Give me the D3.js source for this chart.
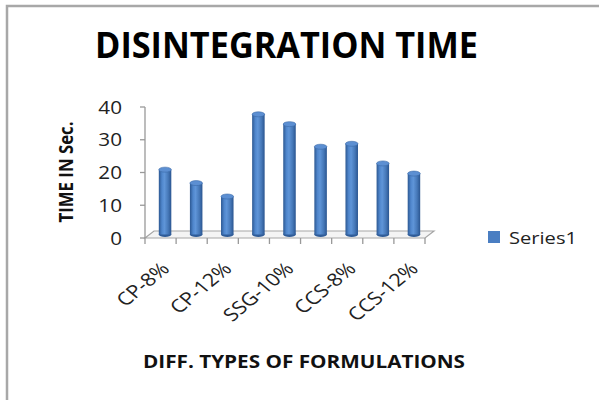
<!DOCTYPE html>
<html>
<head>
<meta charset="utf-8">
<script src="https://cdn.jsdelivr.net/npm/d3@7"></script>
<style>
  html, body { margin: 0; padding: 0; background: #fff; }
  svg { display: block; }
</style>
</head>
<body>
<svg id="chart" width="599" height="400"></svg>
<script>
// Disintegration time (seconds) per formulation
const categories = ["CP-8%", "CP-10%", "CP-12%", "SSG-8%", "SSG-10%", "SSG-12%", "CCS-8%", "CCS-10%", "CCS-12%"];
const times = [19.8, 15.7, 11.6, 36.7, 33.7, 26.8, 27.7, 21.7, 18.6];
const yTicks = [0, 10, 20, 30, 40];
const shownLabels = ["CP-8%", "CP-12%", "SSG-10%", "CCS-8%", "CCS-12%"];
const seriesName = "Series1";
const chartTitle = "DISINTEGRATION TIME";
const xTitle = "DIFF. TYPES OF FORMULATIONS";
const yTitle = "TIME IN Sec.";

(function draw() {
  const svg = d3.select("#chart");
  const font = "'Open Sans', 'DejaVu Sans', sans-serif";

  // chart frame
  svg.append("rect").attr("x", 7).attr("y", 6).attr("width", 620).attr("height", 420)
    .attr("fill", "#fff").attr("stroke", "#a8a8a8").attr("stroke-width", 2.5);

  // plot geometry (oblique 3D floor)
  const plotLeft = 145, plotRight = 425, plotBase = 238, plotTop = 107;
  const depthX = 9, depthY = -7;

  const x = d3.scaleBand().domain(categories).range([plotLeft, plotRight]).paddingInner(0).paddingOuter(0);
  const y = d3.scaleLinear().domain([0, 40]).range([plotBase, plotTop]);

  function fitText(sel, width) {
    sel.attr("textLength", width).attr("lengthAdjust", "spacingAndGlyphs");
    return sel;
  }

  // title
  fitText(svg.append("text").attr("x", 286.5).attr("y", 58).attr("text-anchor", "middle")
    .attr("font-family", font).attr("font-weight", 700).attr("font-size", 35)
    .attr("fill", "#000").text(chartTitle), 383);

  // floor
  svg.append("path")
    .attr("d", `M${plotLeft},${plotBase} L${plotRight},${plotBase} L${plotRight + depthX},${plotBase + depthY} L${plotLeft + depthX},${plotBase + depthY} Z`)
    .attr("fill", "#f4f4f4").attr("stroke", "#a6a6a6").attr("stroke-width", 1.2);

  // value axis
  const yAxis = svg.append("g").attr("stroke", "#999").attr("stroke-width", 1.3);
  yAxis.append("line").attr("x1", plotLeft).attr("x2", plotLeft).attr("y1", y(40)).attr("y2", plotBase);
  yAxis.selectAll("line.tick").data(yTicks).join("line").attr("class", "tick")
    .attr("x1", plotLeft - 5).attr("x2", plotLeft).attr("y1", d => y(d)).attr("y2", d => y(d));
  svg.append("g").selectAll("text").data(yTicks).join("text")
    .attr("transform", d => `translate(122,${y(d) + 6.5}) scale(1.15,1)`).attr("text-anchor", "end")
    .attr("font-family", font).attr("font-size", 18).attr("fill", "#222")
    .text(d => d);

  // category axis ticks
  const xTicks = categories.map(c => x(c)).concat([plotRight]);
  svg.append("g").attr("stroke", "#999").attr("stroke-width", 1.3)
    .selectAll("line").data(xTicks).join("line")
    .attr("x1", d => d).attr("x2", d => d).attr("y1", plotBase).attr("y2", plotBase + 6);

  // bar gradient
  const defs = svg.append("defs");
  const grad = defs.append("linearGradient").attr("id", "barGrad").attr("x1", 0).attr("x2", 1).attr("y1", 0).attr("y2", 0);
  [[0, "#2c5892"], [0.25, "#4f86cc"], [0.45, "#5f95d8"], [0.75, "#4678b8"], [1, "#2a5590"]]
    .forEach(([o, c]) => grad.append("stop").attr("offset", o).attr("stop-color", c));

  // cylinders
  const bw = 12.5, ry = 2.5;
  const bars = svg.append("g").selectAll("g").data(categories.map((c, i) => ({ c, v: times[i] }))).join("g");
  const cx = d => x(d.c) + x.bandwidth() / 2 + depthX / 2;
  const yb = plotBase + depthY / 2;
  const yt = d => y(d.v) + depthY / 2;
  bars.append("ellipse").attr("cx", cx).attr("cy", yb).attr("rx", bw / 2).attr("ry", ry).attr("fill", "#2f5c98");
  bars.append("rect").attr("x", d => cx(d) - bw / 2).attr("y", yt).attr("width", bw)
    .attr("height", d => yb - yt(d)).attr("fill", "url(#barGrad)");
  bars.append("ellipse").attr("cx", cx).attr("cy", yt).attr("rx", bw / 2).attr("ry", ry)
    .attr("fill", "#5c8fd2").attr("stroke", "#3b6aa8").attr("stroke-width", 0.6);

  // category labels (every other)
  svg.append("g").selectAll("text").data(shownLabels).join("text")
    .attr("transform", d => `translate(${x(d) + x.bandwidth() / 2 + 10},270) scale(1.2,1) rotate(-45)`)
    .attr("text-anchor", "end").attr("font-family", font).attr("font-size", 18).attr("fill", "#222")
    .text(d => d);

  // axis titles
  fitText(svg.append("text").attr("x", 304).attr("y", 368).attr("text-anchor", "middle")
    .attr("font-family", font).attr("font-weight", 700).attr("font-size", 18).attr("fill", "#111")
    .text(xTitle), 322);
  fitText(svg.append("text").attr("transform", "translate(73,172) rotate(-90)").attr("text-anchor", "middle")
    .attr("font-family", font).attr("font-weight", 700).attr("font-size", 19).attr("fill", "#111")
    .text(yTitle), 101);

  // legend
  svg.append("rect").attr("x", 488).attr("y", 231).attr("width", 12).attr("height", 12).attr("fill", "#4a7ec2");
  fitText(svg.append("text").attr("x", 509).attr("y", 244).attr("font-family", font).attr("font-size", 17)
    .attr("fill", "#222").text(seriesName), 68);
})();
</script>
</body>
</html>
